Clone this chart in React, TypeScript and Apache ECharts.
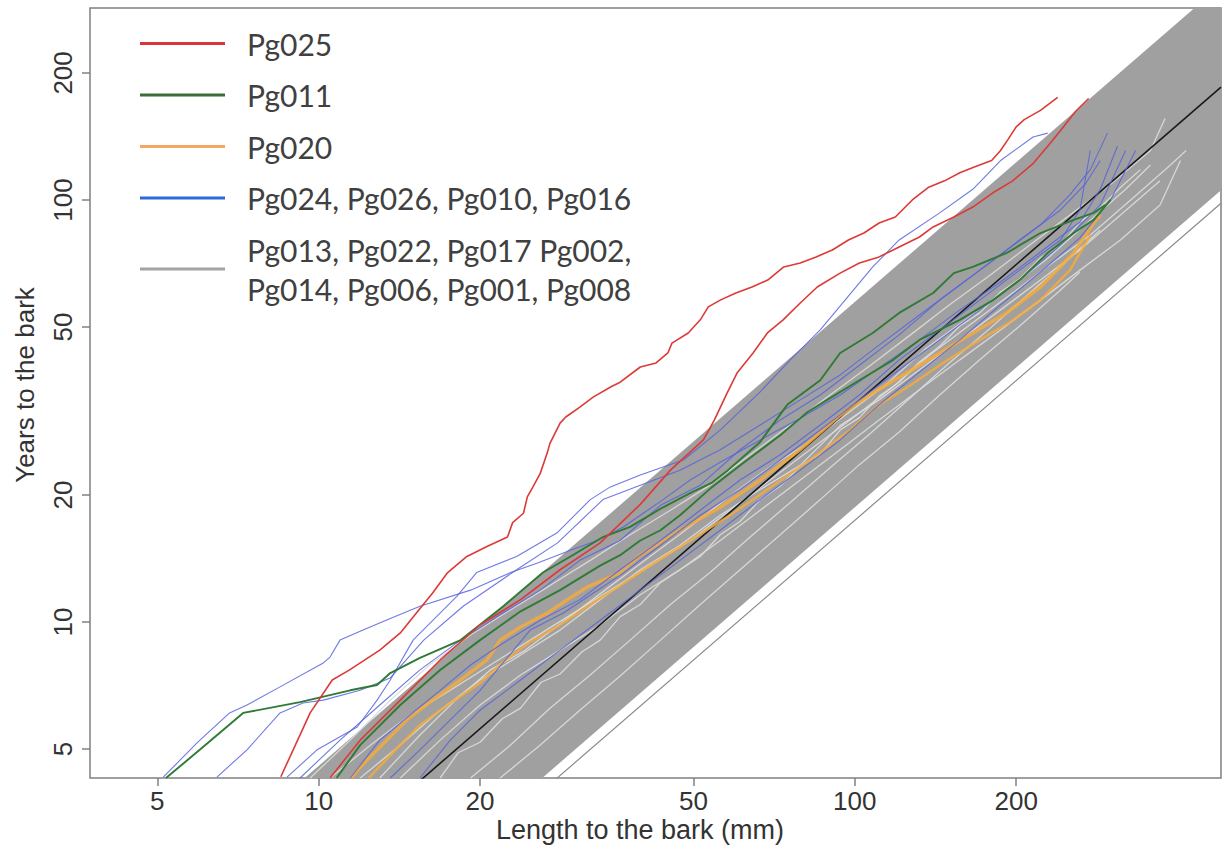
import React, { useEffect, useRef } from 'react';
import * as echarts from 'echarts';

// axis ranges and tick labels (mm / years)
const xRange = [3.745, 482];
const yRange = [4.27, 285];
const xTicks = [5, 10, 20, 50, 100, 200];
const yTicks = [5, 10, 20, 50, 100, 200];

const nRed = 'Pg025';
const nGreen = 'Pg011';
const nOrange = 'Pg020';
const nBlue = 'Pg024, Pg026, Pg010, Pg016';
const nGray = 'Pg013, Pg022, Pg017 Pg002,\nPg014, Pg006, Pg001, Pg008';

// reference band (values at the two x ends)
const bandX = [3.745, 482];
const bandUpper = [1.55, 323];
const bandLower = [0.504, 105.5];
const fitLine = [0.885, 185];
const limitLine = [0.47, 98.2];

// Pg025 (two radii)
const red1 = [[8.5,4.3],[9.64,6.09],[10.6,7.29],[11.4,7.69],[13.0,8.58],[14.2,9.42],[15.4,10.7],[16.3,11.7],[17.4,13.1],[18.9,14.3],[20.6,15.1],[22.5,15.9],[23.0,17.2],[24.1,18.1],[24.5,19.8],[25.1,20.9],[25.9,22.5],[26.7,25.2],[27.0,26.5],[28.2,29.6],[28.9,30.6],[30.7,32.3],[32.5,34.1],[35.1,36.1],[36.5,37.0],[39.8,40.2],[42.6,41.1],[44.8,43.4],[45.6,45.8],[48.9,48.4],[51.5,52.0],[53.3,55.8],[56.1,57.9],[60.0,60.2],[64.3,62.2],[68.8,64.6],[73.7,69.4],[79.1,70.9],[84.7,73.3],[90.8,76.1],[97.3,80.4],[104,83.5],[111,88.2],[119,91.1],[128,100],[137,107],[147,111],[157,116],[168,120],[180,124],[187,131],[193,139],[200,149],[207,155],[222,163],[239,175]];
const red2 = [[10.5,4.27],[11.95,5.25],[14.2,6.53],[16.85,8.13],[20.0,9.84],[23.8,11.3],[28.2,13.3],[33.5,15.4],[39.8,19.0],[45.3,22.9],[52.2,27.0],[54.7,30.1],[57.8,34.9],[60.3,38.9],[64.6,43.4],[68.7,48.4],[73.5,52.0],[79.1,57.0],[85.1,62.2],[93.9,67.1],[102,70.9],[111,73.3],[121,77.4],[132,81.7],[140,86.3],[153,91.1],[166,96.2],[181,104],[197,111],[215,122],[229,134],[242,146],[258,162],[273,174]];

// Pg011 (two radii)
const green1 = [[5.19,4.27],[6.0,4.98],[7.23,6.09],[9.23,6.46],[11.45,6.89],[12.85,7.09],[13.6,7.57],[15.45,8.22],[18.4,9.06],[22.1,10.9],[26.2,13.1],[29.5,14.3],[33.9,15.9],[38.1,16.8],[43.9,18.7],[49.3,20.2],[54.2,21.4],[58.0,22.9],[66.6,26.7],[74.8,32.7],[86.2,37.4],[93.9,43.4],[108,48.4],[121,54.0],[140,60.2],[153,67.1],[166,69.4],[192,74.9],[222,83.5],[256,89.7],[279,93.2],[293,97.3]];
const green2 = [[10.8,4.27],[11.95,5.11],[14.2,6.36],[16.85,7.7],[20.0,9.06],[23.8,10.6],[28.2,11.9],[33.5,13.6],[36.5,14.4],[39.8,15.6],[43.4,16.5],[47.2,17.9],[54.2,20.9],[62.2,23.9],[72.6,27.7],[81.5,31.4],[88.8,33.6],[102,37.4],[118,41.8],[132,46.6],[157,52.0],[181,57.9],[203,64.6],[229,74.9],[256,83.5],[279,89.7],[300,100]];

// Pg020 (two radii)
const orange1 = [[11.5,4.27],[11.95,4.53],[13.4,5.25],[14.6,5.86],[16.3,6.53],[18.4,7.29],[20.6,8.13],[21.8,9.06],[23.8,9.73],[26.7,10.5],[29.1,11.3],[31.7,12.1],[36.5,13.1],[39.8,14.4],[47.2,16.5],[56.1,18.7],[66.6,21.7],[79.1,25.6],[93.9,30.9],[108,34.9],[125,38.9],[144,43.4],[166,48.4],[192,54.0],[222,62.2],[256,74.9],[279,88.2],[287,92.1]];
const orange2 = [[12.4,4.27],[13.9,4.98],[15.45,5.7],[17.6,6.43],[20.0,7.17],[22.3,8.13],[24.8,8.97],[28.2,9.84],[32.1,11.0],[36.5,12.2],[41.5,13.6],[49.3,15.6],[58.5,17.9],[69.5,20.8],[82.5,24.2],[98.0,28.5],[111,32.7],[127,36.4],[147,41.3],[171,46.6],[195,51.4],[222,57.9],[252,68.2],[275,82.6]];

// Pg024, Pg026, Pg010, Pg016
const blue1 = [[5.13,4.29],[5.93,5.17],[6.82,6.09],[7.35,6.36],[8.47,7.02],[10.2,8.0],[10.5,8.26],[10.96,9.06],[12.1,9.57],[13.6,10.2],[15.45,10.9],[19.2,11.9],[22.8,13.1],[25.6,13.8],[29.5,14.8],[33.1,15.6],[37.0,16.8],[40.3,18.1],[43.9,19.5],[49.3,21.7],[56.1,23.9],[66.6,27.0],[79.1,30.4],[93.9,34.5],[111,40.0],[132,46.6],[157,54.9],[187,63.9],[222,75.3],[263,88.7],[287,106],[309,134]];
const blue2 = [[8.73,4.29],[9.93,4.98],[11.8,5.64],[12.85,6.53],[13.6,7.29],[15.0,9.06],[18.1,11.5],[19.7,13.1],[23.4,14.3],[27.9,16.3],[32.1,19.5],[35.0,20.9],[39.8,22.3],[43.9,23.3],[47.9,24.2],[56.1,28.5],[66.6,35.1],[75.8,41.8],[86.2,49.2],[95.9,57.9],[108,69.4],[121,80.4],[144,93.2],[166,106],[187,124],[215,141],[229,144]];
const blue3 = [[6.46,4.29],[7.35,4.98],[8.47,6.09],[9.35,6.43],[10.2,6.53],[11.95,6.89],[13.6,7.37],[15.7,9.06],[18.6,10.9],[23.4,13.3],[27.9,15.4],[33.9,19.5],[39.8,21.1],[47.2,22.9],[56.1,25.6],[66.6,29.3],[79.1,33.6],[93.9,38.5],[111,45.3],[132,53.4],[157,62.9],[187,74.1],[222,87.3],[252,103],[275,118],[296,144]];
const blue4 = [[9.23,4.27],[10.96,5.25],[13.0,6.36],[15.45,7.7],[18.4,9.06],[21.8,10.4],[25.9,11.9],[30.7,14.0],[36.5,15.6],[43.4,18.9],[51.5,21.1],[61.1,25.6],[72.6,30.1],[86.2,34.5],[102,40.6],[121,47.9],[144,57.9],[171,68.2],[203,80.4],[242,94.7],[269,109],[287,124]];
const blue5 = [[13.6,4.27],[15.45,4.98],[17.6,5.86],[20.0,6.89],[22.3,8.13],[24.8,9.57],[28.6,10.5],[32.5,11.7],[36.5,12.9],[43.4,15.2],[51.5,17.9],[61.1,20.6],[72.6,24.2],[86.2,28.5],[102,33.6],[121,39.6],[144,46.6],[171,54.9],[203,64.6],[242,78.2],[287,97.3],[320,131]];
const blue6 = [[11.45,4.27],[13.0,5.25],[14.8,6.02],[16.85,6.89],[19.2,7.91],[21.8,8.82],[25.9,10.1],[30.7,11.3],[36.5,13.3],[43.4,15.6],[51.5,18.4],[61.1,21.7],[72.6,24.9],[86.2,29.3],[102,34.5],[121,41.8],[144,49.2],[171,57.9],[203,68.2],[242,80.4],[263,94.7],[275,131]];
const blue7 = [[15.45,4.27],[17.6,5.25],[20.0,6.18],[23.8,7.29],[28.2,8.58],[33.5,10.1],[39.8,11.9],[47.2,14.0],[56.1,16.5],[66.6,19.5],[79.1,22.9],[93.9,27.0],[111,32.7],[132,39.1],[157,46.6],[187,56.4],[222,67.5],[263,81.3],[300,100],[334,131]];

// Pg013, Pg022, Pg017, Pg002, Pg014, Pg006, Pg001, Pg008
const gray1 = [[9.64,4.27],[11.45,5.25],[13.6,6.53],[16.1,7.91],[19.2,9.32],[22.8,10.7],[27.0,12.2],[32.1,14.0],[38.1,16.1],[45.3,18.4],[53.7,21.1],[63.8,24.9],[75.8,29.3],[89.9,34.5],[107,40.6],[127,47.9],[150,56.4],[179,66.4],[212,78.2],[252,92.1],[300,109],[356,131],[379,156]];
const gray2 = [[10.5,4.27],[12.5,5.11],[14.8,6.02],[17.6,6.89],[20.9,7.91],[24.8,9.06],[29.5,10.4],[35.0,11.9],[41.5,13.6],[49.3,15.6],[58.5,18.4],[69.5,21.7],[82.5,25.6],[98.0,30.1],[116,35.5],[138,42.9],[164,50.6],[195,59.6],[231,70.2],[275,82.6],[327,100],[388,121],[415,131]];
const gray3 = [[16.85,4.27],[18.2,4.9],[20.0,5.19],[22.0,5.9],[23.8,6.25],[26.0,7.2],[28.2,7.53],[31.0,8.5],[33.5,9.06],[36.5,10.3],[39.8,11.0],[43.4,12.4],[47.2,13.3],[51.5,14.3],[56.1,16.1],[61.1,17.3],[66.6,19.5],[72.6,21.0],[79.1,23.4],[86.2,25.0],[93.9,28.5],[102,30.5],[111,34.3],[121,37.0],[132,41.3],[144,45.0],[157,50.3],[171,54.0],[187,60.5],[203,65.0],[222,72.9],[242,78.0],[263,88.7],[287,96.0],[313,107],[341,118]];
const gray4 = [[19.2,4.27],[22.8,5.11],[27.0,6.25],[32.1,7.49],[38.1,9.06],[45.3,11.0],[53.7,13.1],[63.8,15.9],[75.8,19.2],[89.9,23.2],[107,28.0],[127,34.0],[150,41.1],[179,49.7],[212,60.2],[252,72.9],[287,84.9]];
const gray5 = [[14.2,4.27],[16.85,5.25],[20.0,6.36],[23.8,7.49],[28.2,8.58],[33.5,9.84],[39.8,11.6],[47.2,13.3],[56.1,15.6],[66.6,18.4],[79.1,21.7],[93.9,25.6],[111,30.1],[132,35.5],[157,41.8],[187,49.2],[222,57.9],[263,68.2],[313,80.4],[371,97.3],[405,124]];
const gray6 = [[13.0,4.27],[15.45,5.4],[18.0,6.53],[20.9,7.7],[24.3,8.58],[28.8,10.1],[34.2,11.9],[40.6,14.0],[48.3,16.5],[57.3,19.5],[68.1,22.9],[80.8,26.3],[95.9,30.9],[114,36.4],[135,44.2],[161,52.0],[191,61.2],[227,72.1],[269,87.3],[320,106],[356,121]];
const gray7 = [[21.8,4.27],[25.9,5.11],[30.7,6.18],[36.5,7.45],[43.4,9.06],[51.5,11.0],[61.1,13.3],[72.6,16.1],[86.2,19.5],[102,23.6],[121,28.2],[144,34.5],[171,41.8],[203,50.3],[242,61.2],[263,67.5]];
const gray8 = [[11.95,4.27],[14.2,5.11],[16.85,6.18],[20.0,7.29],[23.8,8.35],[28.2,9.57],[33.5,11.3],[39.8,13.3],[47.2,15.2],[56.1,17.9],[66.6,20.6],[79.1,23.5],[93.9,29.2],[111,33.6],[132,39.6],[157,46.6],[187,54.9],[222,64.6],[263,76.1],[313,92.1],[371,111]];

const redLines = [red1, red2];
const greenLines = [green1, green2];
const orangeLines = [orange1, orange2];
const blueLines = [blue1, blue2, blue3, blue4, blue5, blue6, blue7];
const grayLines = [gray1, gray2, gray3, gray4, gray5, gray6, gray7, gray8];

const L = (v: number) => Math.log10(v);
const toLog = (pts: number[][]) => pts.map(([x, y]) => [L(x), L(y)]);

export default function App() {
  const ref = useRef<HTMLDivElement>(null);
  useEffect(() => {
    if (!ref.current) return;
    const chart = echarts.init(ref.current, undefined, { renderer: 'svg' });

    const mk = (name: string, pts: number[][], color: string, legendColor: string, width: number, z: number, opacity = 1) => ({
      type: 'line', name, data: toLog(pts), showSymbol: false, symbol: 'none', silent: true, clip: true,
      lineStyle: { color, width, opacity }, itemStyle: { color: legendColor }, z,
      emphasis: { disabled: true },
    });

    const series: any[] = [
      {
        type: 'custom', name: 'band', silent: true, clip: true, z: 1,
        data: [[1, 1]],
        renderItem: (_p: any, api: any) => {
          const pts = [
            api.coord([L(bandX[0]), L(bandUpper[0])]),
            api.coord([L(bandX[1]), L(bandUpper[1])]),
            api.coord([L(bandX[1]), L(bandLower[1])]),
            api.coord([L(bandX[0]), L(bandLower[0])]),
          ];
          return { type: 'polygon', shape: { points: pts }, style: { fill: '#a0a0a0' } };
        },
      },
      { type: 'line', name: 'limit', data: toLog([[bandX[0], limitLine[0]], [bandX[1], limitLine[1]]]), showSymbol: false, symbol: 'none', silent: true, lineStyle: { color: '#8a8a8a', width: 1.2 }, z: 2 },
    ];
    grayLines.forEach((p) => series.push(mk(nGray, p, '#dadada', '#a3a3a3', 1.3, 3, 0.95)));
    series.push({ type: 'line', name: 'fit', data: toLog([[bandX[0], fitLine[0]], [bandX[1], fitLine[1]]]), showSymbol: false, symbol: 'none', silent: true, lineStyle: { color: '#1a1a1a', width: 1.6 }, z: 4 });
    orangeLines.forEach((p, i) => series.push(mk(nOrange, p, '#f3aa3c', '#f2a764', i === 0 ? 3.5 : 2.5, 5, 0.85)));
    blueLines.forEach((p) => series.push(mk(nBlue, p, '#5563dd', '#2c6ad8', 1.1, 6, 0.85)));
    greenLines.forEach((p) => series.push(mk(nGreen, p, '#2f7a34', '#3d6b3a', 1.9, 7)));
    redLines.forEach((p) => series.push(mk(nRed, p, '#dc3a36', '#d8343a', 1.6, 8)));

    const tickFmt = (v: number) => String(Math.round(Math.pow(10, v)));
    const labelFont = { fontFamily: 'Liberation Sans, Arial, sans-serif', fontSize: 26, color: '#333' };

    chart.setOption({
      animation: false,
      backgroundColor: '#fff',
      grid: { left: 90, right: 6, top: 8, bottom: 74, show: true, borderColor: '#808080', borderWidth: 1.5, containLabel: false },
      xAxis: {
        type: 'value', min: L(xRange[0]), max: L(xRange[1]),
        axisLine: { show: false },
        splitLine: { show: false },
        axisTick: { show: true, length: 8, lineStyle: { color: '#808080', width: 1.5 }, customValues: xTicks.map(L) },
        axisLabel: { ...labelFont, margin: 10, customValues: xTicks.map(L), formatter: tickFmt },
      },
      yAxis: {
        type: 'value', min: L(yRange[0]), max: L(yRange[1]),
        axisLine: { show: false },
        splitLine: { show: false },
        axisTick: { show: true, length: 8, lineStyle: { color: '#808080', width: 1.5 }, customValues: yTicks.map(L) },
        axisLabel: { ...labelFont, margin: 14, rotate: 90, customValues: yTicks.map(L), formatter: tickFmt },
      },
      legend: {
        orient: 'vertical', left: 140, top: 24, padding: 0, selectedMode: false,
        icon: 'rect', itemWidth: 85, itemHeight: 3, itemGap: 12.5,
        textStyle: { fontFamily: 'Lato, sans-serif', fontSize: 30, lineHeight: 39, color: '#404040', padding: [0, 0, 0, 17] },
        data: [
          { name: nRed, itemStyle: { color: '#d8343a' } },
          { name: nGreen, itemStyle: { color: '#3d6b3a' } },
          { name: nOrange, itemStyle: { color: '#f2a764' } },
          { name: nBlue, itemStyle: { color: '#2c6ad8' } },
          { name: nGray, itemStyle: { color: '#a3a3a3' } },
        ],
      },
      graphic: [
        { type: 'text', x: 640, y: 830, style: { text: 'Length to the bark (mm)', ...labelFont, fontSize: 27, fill: '#333', align: 'center', verticalAlign: 'middle' } },
        { type: 'text', x: 25, y: 385, rotation: Math.PI / 2, style: { text: 'Years to the bark', ...labelFont, fontSize: 26, fill: '#333', align: 'center', verticalAlign: 'middle' } },
      ],
      series,
    });
    return () => chart.dispose();
  }, []);
  return <div ref={ref} style={{ position: 'fixed', left: 0, top: 0, width: 1227, height: 852 }} />;
}
